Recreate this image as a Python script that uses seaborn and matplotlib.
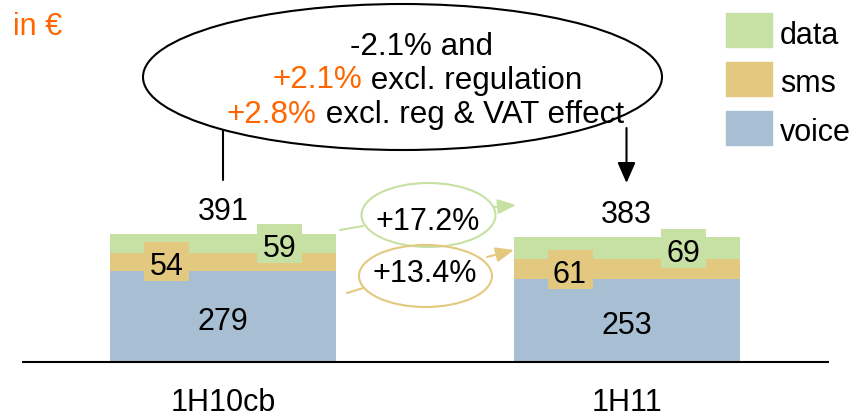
import pandas as pd
import matplotlib.pyplot as plt
import seaborn as sns
from matplotlib.patches import Ellipse, Rectangle, Patch
from matplotlib.legend_handler import HandlerPatch

# Data (in €)
periods = ['1H10cb', '1H11']
voice = [279, 253]
sms = [54, 61]
data = [59, 69]
totals = [391, 383]
growth_labels = ['+17.2%', '+13.4%']

c_voice = '#a7bed3'
c_sms = '#e3c97f'
c_data = '#c7e0a3'
orange = '#ff6600'
FS = 22

# Figure geometry in pixels
W, H = 856, 418
BASE_PX = 362        # pixel row of the zero line
UNIT = 3.058         # euros per pixel vertically
X0_PX, STEP_PX = 223, 403.5   # first bar centre, spacing between bars

sns.set_style('white')
plt.rcParams['font.family'] = ['Liberation Sans', 'DejaVu Sans']
plt.rcParams['text.color'] = 'black'

df = pd.DataFrame({'period': periods, 'voice': voice, 'sms': sms, 'data': data})
df['voice_sms'] = df['voice'] + df['sms']
df['all'] = df['voice_sms'] + df['data']

fig = plt.figure(figsize=(W / 100, H / 100), dpi=100)
ax = fig.add_axes([0, 0, 1, 1])

bw = 226 / STEP_PX
# stacked bars drawn as overlays, tallest first
sns.barplot(data=df, x='period', y='all', color=c_data, saturation=1, width=bw, linewidth=0, ax=ax)
sns.barplot(data=df, x='period', y='voice_sms', color=c_sms, saturation=1, width=bw, linewidth=0, ax=ax)
sns.barplot(data=df, x='period', y='voice', color=c_voice, saturation=1, width=bw, linewidth=0, ax=ax)

ax.set_xlim(-X0_PX / STEP_PX, (W - X0_PX) / STEP_PX)
ax.set_ylim(-(H - BASE_PX) * UNIT, BASE_PX * UNIT)
ax.axis('off')


def px2x(px):
    return (px - X0_PX) / STEP_PX


def P(x, y):
    # pixel -> axes fraction
    return (x / W, 1 - y / H)


# zero line
ax.plot([px2x(22), px2x(829)], [0, 0], color='black', lw=1.5, solid_capstyle='butt')

box_w = 45 / STEP_PX
box_h = 39 * UNIT
for i, row in df.iterrows():
    # voice value in the middle of the segment
    ax.text(i, row['voice'] / 2 - 2 * UNIT, str(row['voice']), ha='center', va='center_baseline', fontsize=FS)
    # sms and data values in little boxes
    for cx, cy, val, col in [(i - 0.25 * bw, row['voice'] + row['sms'] / 2, row['sms'], c_sms),
                             (i + 0.25 * bw, row['voice_sms'] + row['data'] / 2, row['data'], c_data)]:
        ax.add_patch(Rectangle((cx - box_w / 2, cy - box_h / 2), box_w, box_h, color=col, lw=0, zorder=3))
        ax.text(cx, cy - 2 * UNIT, str(val), ha='center', va='center_baseline', fontsize=FS, zorder=4)
    ax.text(i, row['all'] + 14 * UNIT, str(totals[i]), ha='center', va='baseline', fontsize=FS)
    ax.text(i, -49 * UNIT, row['period'], ha='center', va='baseline', fontsize=FS)

# currency note
ax.text(*P(13, 35), 'in €', color=orange, fontsize=FS, ha='left', va='baseline', transform=ax.transAxes)

# big ellipse with summary
ax.add_patch(Ellipse(P(402.5, 77), 519 / W, 146 / H, transform=ax.transAxes,
                     fill=False, edgecolor='black', lw=1.5))

FS_NOTE = 22.6


def rich_line(x_px, y_px, parts, ha='left'):
    t = ax.text(*P(x_px, y_px), parts[0][0], color=parts[0][1], transform=ax.transAxes,
                ha=ha, va='baseline', fontsize=FS_NOTE)
    for s, c in parts[1:]:
        t = ax.annotate(s, xy=(1, 0), xycoords=t, color=c, ha='left', va='bottom', fontsize=FS_NOTE)


rich_line(421, 55, [('-2.1% and', 'black')], ha='center')
rich_line(272, 88.5, [('+2.1%', orange), (' excl. regulation', 'black')])
rich_line(227, 123, [('+2.8%', orange), (' excl. reg & VAT effect', 'black')])

# connectors from the ellipse to the totals
ax.plot([0, 0], [(BASE_PX - 130) * UNIT, (BASE_PX - 180) * UNIT], color='black', lw=1.5)
ax.annotate('', xy=(1, (BASE_PX - 183) * UNIT), xytext=(1, (BASE_PX - 128) * UNIT),
            arrowprops=dict(arrowstyle='-|>,head_length=1.25,head_width=0.55', color='black',
                            lw=1.5, shrinkA=0, shrinkB=0))

# growth ellipses and arrows
growth_geo = [
    dict(c=c_data, center=(428.5, 215), w=134, h=64, text=(428, 230),
         seg=((340, 230), (363, 226)), arr=((494, 207), (516, 205))),
    dict(c=c_sms, center=(425.5, 276), w=133, h=62, text=(425, 282),
         seg=((347, 293), (363, 288)), arr=((487, 257), (514, 250))),
]
for lab, g in zip(growth_labels, growth_geo):
    ax.add_patch(Ellipse(P(*g['center']), g['w'] / W, g['h'] / H, transform=ax.transAxes,
                         fill=False, edgecolor=g['c'], lw=1.5))
    ax.text(*P(*g['text']), lab, ha='center', va='baseline', fontsize=FS, transform=ax.transAxes)
    ax.annotate('', xy=P(*g['seg'][1]), xytext=P(*g['seg'][0]), xycoords='axes fraction',
                arrowprops=dict(arrowstyle='-', color=g['c'], lw=1.5, shrinkA=0, shrinkB=0))
    ax.annotate('', xy=P(*g['arr'][1]), xytext=P(*g['arr'][0]), xycoords='axes fraction',
                arrowprops=dict(arrowstyle='-|>,head_length=1.1,head_width=0.45', color=g['c'],
                                lw=1.5, shrinkA=0, shrinkB=0))


# legend swatches sit a little higher relative to the text baseline
def raised_patch(legend, orig_handle, xdescent, ydescent, width, height, fontsize):
    return Rectangle((-xdescent, -ydescent + 2.4), width, height)


handles = [Patch(color=c_data, label='data'), Patch(color=c_sms, label='sms'),
           Patch(color=c_voice, label='voice')]
ax.legend(handles=handles, loc='upper left', bbox_to_anchor=P(726, 16.3), frameon=False,
          fontsize=FS, handlelength=1.5, handleheight=1.335, handletextpad=0.26,
          labelspacing=0.48, borderpad=0, borderaxespad=0,
          handler_map={Patch: HandlerPatch(patch_func=raised_patch)})

fig.savefig('out.png', dpi=100)
